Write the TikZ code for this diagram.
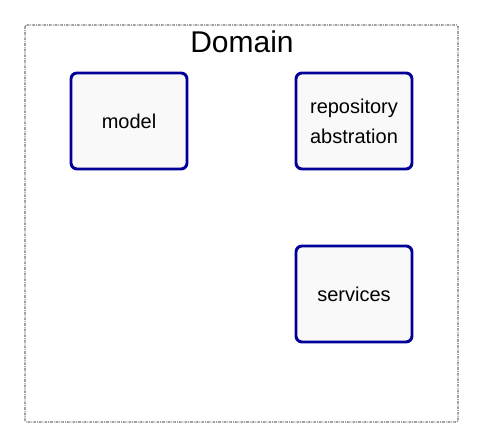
\documentclass[tikz,border=0pt]{standalone}
\usepackage{fontspec}
\setmainfont{Liberation Sans}
\usetikzlibrary{positioning}
\definecolor{dmBlue}{HTML}{000099}
\definecolor{dmFill}{HTML}{F9F9F9}
\definecolor{dmGray}{HTML}{6F6F6F}

\begin{document}
\begin{tikzpicture}[x=0.75pt,y=-0.75pt,line join=round,
    layer/.style={draw=dmBlue,fill=dmFill,line width=2.2pt,rounded corners=4.5pt,
      minimum width=87pt,minimum height=72pt,align=center,font=\fontsize{15}{22.5}\selectfont,
      inner sep=0pt}]
    \useasboundingbox (0,0) rectangle (483,448);
    % outer package frame
    \draw[dmGray,dash pattern=on 2pt off 0.8pt on 0.6pt off 0.8pt,line width=0.8pt,
      rounded corners=1pt] (25,25) rectangle (458,422);
    \node[font=\fontsize{22.5}{27}\selectfont] (domain) at (242,42) {Domain};
    % the three parts of the domain
    \node[layer] (model) at (129,121) {model};
    \node[layer] (repo) at (354,121) {repository\\abstration};
    \node[layer] (services) at (354,294) {services};
  \end{tikzpicture}
\end{document}
